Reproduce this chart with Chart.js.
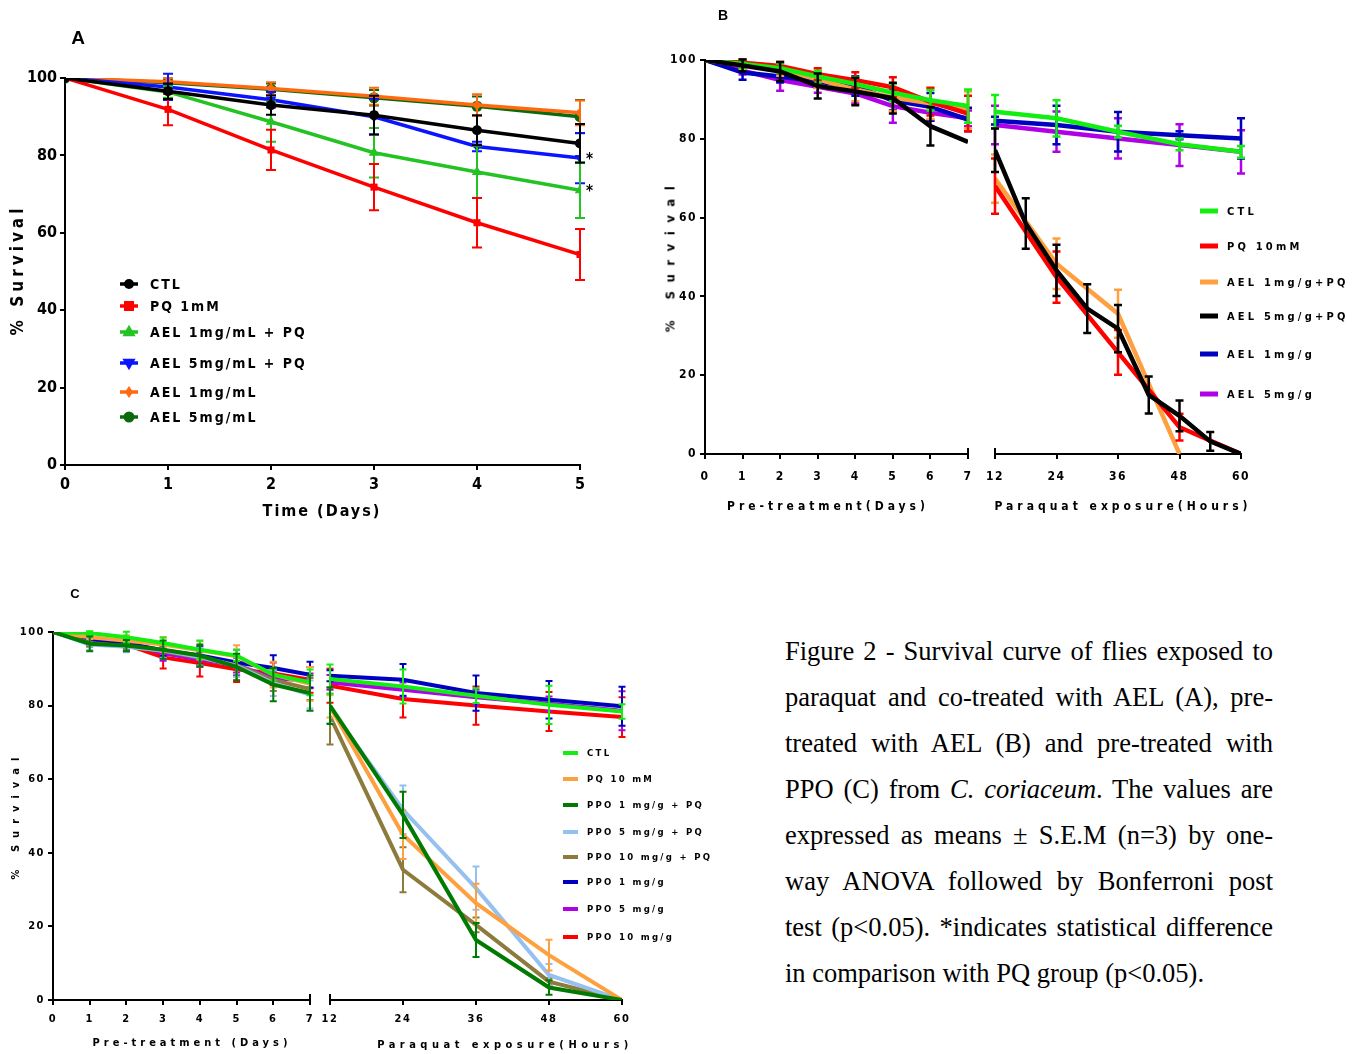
<!DOCTYPE html>
<html>
<head>
<meta charset="utf-8">
<script src="https://cdn.jsdelivr.net/npm/chart.js@4.4.1/dist/chart.umd.min.js"></script>
<style>
  body { margin: 0; background: #fff; width: 1357px; height: 1054px; position: relative; overflow: hidden;
         font-family: 'Liberation Sans', Arial, sans-serif; color: #000; }
  canvas { position: absolute; }
  .lbl { position: absolute; white-space: nowrap; font-weight: bold; transform: translate(-50%, -50%);
         font-family: 'Liberation Sans Narrow', 'DejaVu Sans Condensed', 'Liberation Sans', Arial, sans-serif; }
  .vert { transform: translate(-50%, -50%) rotate(-90deg); }
  .panel { font-family: 'Liberation Sans', Arial, sans-serif; }
  #caption { position: absolute; left: 785px; top: 628px; width: 488px;
             font: 26.5px/46px 'Liberation Serif', 'Times New Roman', serif; }
  #caption div { text-align: justify; text-align-last: justify; white-space: nowrap; }
  #caption div.last { text-align-last: left; }
</style>
</head>
<body>

<canvas id="chartA" width="640" height="540" style="left:0;top:0"></canvas>
<canvas id="chartBdays" width="335" height="530" style="left:640px;top:0"></canvas>
<canvas id="chartBhours" width="382" height="530" style="left:975px;top:0"></canvas>
<canvas id="chartCdays" width="318" height="494" style="left:0;top:560px"></canvas>
<canvas id="chartChours" width="402" height="494" style="left:318px;top:560px"></canvas>

<div class="lbl panel" style="left:78px;top:38px;font-size:19px">A</div>
<div class="lbl vert" style="left:17px;top:270px;font-size:17px;letter-spacing:4px">% Survival</div>
<div class="lbl" style="left:322px;top:510px;font-size:16px;letter-spacing:2px">Time (Days)</div>

<div class="lbl panel" style="left:723px;top:15px;font-size:14px">B</div>
<div class="lbl vert" style="left:670px;top:255px;font-size:13px;letter-spacing:8.5px">% Survival</div>
<div class="lbl" style="left:828px;top:506px;font-size:12px;letter-spacing:4px">Pre-treatment(Days)</div>
<div class="lbl" style="left:1123px;top:506px;font-size:12px;letter-spacing:4px">Paraquat exposure(Hours)</div>

<div class="lbl panel" style="left:75px;top:593px;font-size:13px">C</div>
<div class="lbl vert" style="left:15px;top:815px;font-size:11px;letter-spacing:7px">% Survival</div>
<div class="lbl" style="left:192px;top:1042px;font-size:11px;letter-spacing:4px">Pre-treatment (Days)</div>
<div class="lbl" style="left:505px;top:1044px;font-size:11px;letter-spacing:4.5px">Paraquat exposure(Hours)</div>

<div id="caption">
  <div>Figure 2 - Survival curve of flies exposed to</div>
  <div>paraquat and co-treated with AEL (A), pre-</div>
  <div>treated with AEL (B) and pre-treated with</div>
  <div>PPO (C) from <i>C. coriaceum</i>. The values are</div>
  <div>expressed as means ± S.E.M (n=3) by one-</div>
  <div>way ANOVA followed by Bonferroni post</div>
  <div>test (p&lt;0.05). *indicates statistical difference</div>
  <div class="last">in comparison with PQ group (p&lt;0.05).</div>
</div>

<script>
const NARROW = "'Liberation Sans Narrow', 'DejaVu Sans Condensed', 'Liberation Sans', Arial, sans-serif";

// ---- Panel A: co-treatment, survival per day ----
const daysA = [0, 1, 2, 3, 4, 5];
const labelsA = ['CTL', 'PQ 1mM', 'AEL 1mg/mL + PQ', 'AEL 5mg/mL + PQ', 'AEL 1mg/mL', 'AEL 5mg/mL'];
const ctlA       = [100, 96.6, 93.0, 90.4, 86.5, 83.1];
const ctlErrA    = [0, 2.0, 2.5, 5.0, 3.9, 5.0];
const pqA        = [100, 91.9, 81.4, 71.8, 62.6, 54.4];
const pqErrA     = [0, 4.1, 5.2, 6.0, 6.4, 6.6];
const ael1pqA    = [100, 96.4, 88.7, 80.7, 75.7, 71.0];
const ael1pqErrA = [0, 1.5, 5.2, 6.4, 6.7, 7.2];
const ael5pqA    = [100, 97.7, 94.4, 90.0, 82.3, 79.3];
const ael5pqErrA = [0, 3.4, 2.0, 4.6, 1.2, 6.5];
const ael1A      = [100, 99.0, 97.3, 95.3, 93.0, 91.0];
const ael1ErrA   = [0, 1.0, 1.6, 2.2, 2.8, 3.2];
const ael5A      = [100, 98.8, 97.1, 94.9, 92.7, 90.0];
const ael5ErrA   = [0, 1.0, 1.5, 2.0, 2.5, 4.3];
const starsA     = ['', '', '', '', '', '*'];

// ---- Panel B: AEL pre-treatment (days) then paraquat (hours) ----
const daysB = [0, 1, 2, 3, 4, 5, 6, 7];
const hoursB = [12, 24, 36, 48, 60];
const hoursFineB = [12, 18, 24, 30, 36, 42, 48, 54, 60];
const labelsB = ['CTL', 'PQ 10mM', 'AEL 1mg/g+PQ', 'AEL 5mg/g+PQ', 'AEL 1mg/g', 'AEL 5mg/g'];
const ctlDaysB       = [100, 99.0, 97.9, 95.8, 93.9, 91.7, 89.8, 88.3];
const ctlDaysErrB    = [0, 1.0, 1.2, 1.5, 1.8, 2.2, 2.6, 4.2];
const pqDaysB        = [100, 99.3, 98.5, 96.4, 94.9, 93.1, 89.4, 86.4];
const pqDaysErrB     = [0, 0.8, 1.0, 1.5, 2.0, 2.5, 3.5, 4.5];
const ael1pqDaysB    = [100, 98.7, 97.5, 95.1, 92.5, 90.5, 89.0, 87.3];
const ael1pqDaysErrB = [0, 1.0, 1.5, 2.2, 3.0, 3.5, 4.0, 4.7];
const ael5pqDaysB    = [100, 98.6, 97.1, 93.4, 92.0, 90.3, 83.2, 79.2];
const ael5pqDaysErrB = [0, 1.5, 2.4, 3.2, 3.5, 3.9, 4.9, 0];
const ael1DaysB      = [100, 96.8, 95.8, 94.5, 93.4, 89.7, 88.1, 84.9];
const ael1DaysErrB   = [0, 1.8, 1.5, 1.5, 2.5, 2.5, 3.5, 3.0];
const ael5DaysB      = [100, 97.3, 94.9, 93.2, 91.5, 88.3, 86.6, 85.2];
const ael5DaysErrB   = [0, 1.0, 2.7, 1.5, 2.5, 4.2, 2.0, 2.0];

const ctlHoursB       = [86.9, 85.2, 81.8, 78.6, 76.7];
const ctlHoursErrB    = [4.2, 4.6, 1.5, 1.5, 1.5];
const pqHoursB        = [68.0, 44.9, 25.8, 6.8, 0];
const pqHoursErrB     = [7.0, 6.5, 5.7, 3.4, 0];
const ael1pqHoursB    = [69.9, 48.3, 35.6, 0];
const ael1pqHoursErrB = [6.1, 6.4, 6.1, 0];
const ael5pqHoursB    = [77.1, 58.5, 46.6, 36.9, 31.8, 15.0, 9.7, 3.2, 0];
const ael5pqHoursErrB = [5.5, 6.4, 6.5, 6.2, 6.0, 4.7, 3.9, 2.4, 0];
const ael1HoursB      = [84.6, 83.5, 81.8, 80.9, 80.1];
const ael1HoursErrB   = [1.0, 4.9, 5.0, 1.0, 5.1];
const ael5HoursB      = [83.5, 81.8, 80.1, 78.4, 76.7];
const ael5HoursErrB   = [4.9, 5.1, 5.1, 5.3, 5.5];

// ---- Panel C: PPO pre-treatment (days) then paraquat (hours) ----
const daysC = [0, 1, 2, 3, 4, 5, 6, 7];
const hoursC = [12, 24, 36, 48, 60];
const labelsC = ['CTL', 'PQ 10 mM', 'PPO 1 mg/g + PQ', 'PPO 5 mg/g + PQ', 'PPO 10 mg/g + PQ',
                 'PPO 1 mg/g', 'PPO 5 mg/g', 'PPO 10 mg/g'];
const ctlDaysC        = [100, 99.7, 98.6, 97.0, 95.2, 93.6, 88.4, 86.3];
const ctlDaysErrC     = [0, 0.5, 1.5, 1.5, 2.5, 1.5, 1.5, 3.5];
const pqDaysC         = [100, 98.6, 97.6, 96.6, 95.0, 93.4, 88.4, 85.9];
const pqDaysErrC      = [0, 1.5, 1.5, 2.0, 2.5, 3.0, 3.5, 4.6];
const ppo1pqDaysC     = [100, 96.8, 96.3, 95.2, 93.6, 90.5, 85.7, 83.4];
const ppo1pqDaysErrC  = [0, 2.0, 1.5, 2.5, 3.0, 3.6, 4.5, 4.8];
const ppo5pqDaysC     = [100, 96.6, 96.0, 95.0, 93.2, 90.8, 86.1, 83.0];
const ppo5pqDaysErrC  = [0, 1.5, 1.5, 2.0, 2.5, 3.0, 3.5, 3.8];
const ppo10pqDaysC    = [100, 97.0, 96.1, 94.8, 93.0, 91.0, 87.0, 84.5];
const ppo10pqDaysErrC = [0, 1.0, 1.0, 2.0, 2.0, 3.0, 3.0, 3.0];
const ppo1DaysC       = [100, 97.7, 97.0, 95.0, 93.6, 91.7, 90.2, 88.4];
const ppo1DaysErrC    = [0, 1.5, 1.5, 1.5, 2.5, 3.5, 3.5, 3.5];
const ppo5DaysC       = [100, 97.9, 97.0, 94.2, 92.5, 91.0, 87.5, 86.7];
const ppo5DaysErrC    = [0, 1.0, 1.0, 2.0, 2.0, 2.0, 2.0, 2.0];
const ppo10DaysC      = [100, 98.1, 96.6, 93.1, 91.6, 89.9, 88.7, 87.0];
const ppo10DaysErrC   = [0, 1.0, 2.0, 3.0, 3.7, 3.5, 3.0, 3.5];

const ctlHoursC        = [87.2, 85.2, 82.7, 80.2, 78.4];
const ctlHoursErrC     = [4.0, 4.6, 2.0, 5.2, 2.0];
const pqHoursC         = [79.8, 44.9, 26.3, 12.2, 0];
const pqHoursErrC      = [3.0, 6.6, 5.3, 4.2, 0];
const ppo1pqHoursC     = [80.0, 50.3, 16.3, 3.4, 0];
const ppo1pqHoursErrC  = [5.0, 6.3, 4.6, 2.0, 0];
const ppo5pqHoursC     = [79.3, 51.7, 30.4, 6.8, 0];
const ppo5pqHoursErrC  = [4.0, 6.6, 5.9, 3.0, 0];
const ppo10pqHoursC    = [77.1, 35.4, 20.4, 5.0, 0];
const ppo10pqHoursErrC = [7.7, 6.1, 2.0, 1.0, 0];
const ppo1HoursC       = [88.1, 87.0, 83.4, 81.6, 79.8];
const ppo1HoursErrC    = [1.5, 4.3, 4.8, 5.1, 5.3];
const ppo5HoursC       = [86.3, 84.3, 82.3, 80.5, 78.6];
const ppo5HoursErrC    = [2.0, 2.0, 2.0, 2.0, 5.3];
const ppo10HoursC      = [85.4, 81.8, 80.0, 78.4, 76.9];
const ppo10HoursErrC   = [4.6, 5.0, 5.2, 5.3, 5.4];

// pair x values with y values for the linear x scale
function points(xs, ys) {
    return ys.map((y, i) => ({ x: xs[i], y: y }));
}

// letter spacing for tick labels (canvas text state)
const letterSpacing = {
    id: 'letterSpacing',
    beforeLayout(chart, args, opts) { chart.ctx.letterSpacing = opts.value || '0px'; },
    beforeDraw(chart, args, opts) { chart.ctx.letterSpacing = opts.value || '0px'; }
};

// short vertical strokes marking where a broken x axis stops / restarts
const axisBreak = {
    id: 'axisBreak',
    afterDraw(chart, args, opts) {
        if (!opts.at) return;
        const ctx = chart.ctx;
        const x = opts.at === 'end' ? chart.scales.x.right : chart.scales.x.left;
        const y = chart.scales.x.top;
        ctx.save();
        ctx.strokeStyle = '#000';
        ctx.lineWidth = 2;
        ctx.beginPath();
        ctx.moveTo(x, y - 6);
        ctx.lineTo(x, y + 5);
        ctx.stroke();
        ctx.restore();
    }
};

// vertical error bars with caps, plus optional text marks beside points
const errorBars = {
    id: 'errorBars',
    afterDatasetDraw(chart, args) {
        const ds = chart.data.datasets[args.index];
        const ctx = chart.ctx;
        const yScale = chart.scales.y;
        ctx.save();
        if (ds.errors) {
            const cap = ds.capHalf || 4;
            ctx.strokeStyle = ds.borderColor;
            ctx.lineWidth = ds.errorWidth || 2;
            args.meta.data.forEach((pt, i) => {
                const e = ds.errors[i];
                if (!e) return;
                const v = ds.data[i].y;
                const top = yScale.getPixelForValue(v + e);
                const bot = yScale.getPixelForValue(v - e);
                ctx.beginPath();
                ctx.moveTo(pt.x, top); ctx.lineTo(pt.x, bot);
                ctx.moveTo(pt.x - cap, top); ctx.lineTo(pt.x + cap, top);
                ctx.moveTo(pt.x - cap, bot); ctx.lineTo(pt.x + cap, bot);
                ctx.stroke();
            });
        }
        if (ds.marks) {
            ctx.fillStyle = '#000';
            ctx.font = 'bold 15px ' + NARROW;
            ctx.letterSpacing = '0px';
            ctx.textBaseline = 'middle';
            args.meta.data.forEach((pt, i) => {
                if (ds.marks[i]) ctx.fillText(ds.marks[i], pt.x + 6, pt.y + 2);
            });
        }
        ctx.restore();
    }
};

function drawMarker(ctx, style, rotation, x, y, r, color) {
    ctx.save();
    ctx.fillStyle = color;
    ctx.translate(x, y);
    ctx.rotate((rotation || 0) * Math.PI / 180);
    ctx.beginPath();
    if (style === 'rect') {
        ctx.rect(-r, -r, 2 * r, 2 * r);
    } else if (style === 'triangle') {
        ctx.moveTo(0, -r * 1.2); ctx.lineTo(r * 1.1, r * 0.7); ctx.lineTo(-r * 1.1, r * 0.7); ctx.closePath();
    } else if (style === 'rectRot') {
        ctx.moveTo(0, -r * 1.2); ctx.lineTo(r * 0.8, 0); ctx.lineTo(0, r * 1.2); ctx.lineTo(-r * 0.8, 0); ctx.closePath();
    } else {
        ctx.arc(0, 0, r, 0, Math.PI * 2);
    }
    ctx.fill();
    ctx.restore();
}

// legend drawn inside the plot: short line (with marker) and label per dataset
const insideLegend = {
    id: 'insideLegend',
    afterDraw(chart, args, opts) {
        if (!opts.rows) return;
        const ctx = chart.ctx;
        ctx.save();
        ctx.font = opts.font;
        ctx.letterSpacing = opts.spacing;
        ctx.textBaseline = 'middle';
        chart.data.datasets.forEach((ds, i) => {
            const y = opts.rows[i];
            ctx.strokeStyle = ds.borderColor;
            ctx.lineWidth = opts.lineWidth;
            ctx.beginPath();
            ctx.moveTo(opts.x, y);
            ctx.lineTo(opts.x + opts.length, y);
            ctx.stroke();
            if (opts.markers) {
                drawMarker(ctx, ds.pointStyle, ds.pointRotation, opts.x + opts.length / 2, y, ds.pointRadius, ds.borderColor);
            }
            ctx.fillStyle = '#000';
            ctx.fillText(ds.label, opts.textX, y + 1);
        });
        ctx.restore();
    }
};

function makeChart(id, datasets, o) {
    return new Chart(document.getElementById(id), {
        type: 'line',
        data: { datasets: datasets },
        options: {
            animation: false,
            responsive: false,
            devicePixelRatio: 1,
            layout: { padding: o.padding },
            elements: { line: { tension: 0 } },
            scales: {
                x: {
                    type: 'linear', min: o.xMin, max: o.xMax,
                    ticks: { stepSize: o.xStep, color: '#000', padding: o.xTickPad,
                             maxRotation: 0, minRotation: 0,
                             font: { family: NARROW, size: o.tickSize, weight: 'bold' } },
                    grid: { drawOnChartArea: false, tickLength: 5, color: '#000', lineWidth: 2 },
                    border: { color: '#000', width: 2 },
                    // fixed axis band; end labels may hang over the layout padding
                    afterFit: s => { s.height = o.xHeight; s.paddingLeft = 0; s.paddingRight = 0; }
                },
                y: {
                    display: o.showY, min: 0, max: 100,
                    ticks: { stepSize: 20, color: '#000', padding: 3,
                             font: { family: NARROW, size: o.tickSize, weight: 'bold' } },
                    grid: { drawOnChartArea: false, tickLength: 5, color: '#000', lineWidth: 2 },
                    border: { color: '#000', width: 2 },
                    afterFit: s => { s.width = o.yWidth; }
                }
            },
            plugins: {
                legend: { display: false },
                tooltip: { enabled: false },
                letterSpacing: { value: o.tickSpacing },
                axisBreak: { at: o.breakAt },
                insideLegend: o.legend || {}
            }
        },
        plugins: [letterSpacing, axisBreak, errorBars, insideLegend]
    });
}

function series(label, color, xs, ys, errs, extra) {
    return Object.assign({
        label: label, data: points(xs, ys), errors: errs,
        borderColor: color, backgroundColor: color,
        borderWidth: 4, pointRadius: 0, fill: false
    }, extra || {});
}

// ---- Panel A ----
const styleA = { borderWidth: 3.5, pointBorderWidth: 0, errorWidth: 2, capHalf: 5 };
makeChart('chartA', [
    series(labelsA[0], '#000000', daysA, ctlA, ctlErrA, Object.assign({ pointStyle: 'circle', pointRadius: 5 }, styleA)),
    series(labelsA[1], '#ff0000', daysA, pqA, pqErrA, Object.assign({ pointStyle: 'rect', pointRadius: 5 }, styleA)),
    series(labelsA[2], '#22c322', daysA, ael1pqA, ael1pqErrA, Object.assign({ pointStyle: 'triangle', pointRadius: 6, marks: starsA }, styleA)),
    series(labelsA[3], '#0a14ff', daysA, ael5pqA, ael5pqErrA, Object.assign({ pointStyle: 'triangle', pointRotation: 180, pointRadius: 6, marks: starsA }, styleA)),
    series(labelsA[4], '#ff6a10', daysA, ael1A, ael1ErrA, Object.assign({ pointStyle: 'rectRot', pointRadius: 5 }, styleA)),
    series(labelsA[5], '#0b6a0b', daysA, ael5A, ael5ErrA, Object.assign({ pointStyle: 'circle', pointRadius: 5.5 }, styleA))
], {
    padding: { top: 78, right: 60, left: 0, bottom: 0 },
    xMin: 0, xMax: 5, xStep: 1, showY: true, yWidth: 65, xHeight: 75, xTickPad: 5,
    tickSize: 16, tickSpacing: '0px',
    legend: { x: 120, length: 18, textX: 150, rows: [284, 306, 332, 363, 392, 417],
              font: 'bold 14px ' + NARROW, spacing: '2px', lineWidth: 3.5, markers: true }
});

// ---- Panel B ----
const colorsB = ['#12ee12', '#ff0000', '#ffa040', '#000000', '#0000c0', '#b000e6'];
const errB = { errorWidth: 2.5, capHalf: 4, borderWidth: 4.5 };
makeChart('chartBdays', [
    series(labelsB[0], colorsB[0], daysB, ctlDaysB, ctlDaysErrB, errB),
    series(labelsB[1], colorsB[1], daysB, pqDaysB, pqDaysErrB, errB),
    series(labelsB[2], colorsB[2], daysB, ael1pqDaysB, ael1pqDaysErrB, errB),
    series(labelsB[3], colorsB[3], daysB, ael5pqDaysB, ael5pqDaysErrB, Object.assign({ order: -1 }, errB)),
    series(labelsB[4], colorsB[4], daysB, ael1DaysB, ael1DaysErrB, errB),
    series(labelsB[5], colorsB[5], daysB, ael5DaysB, ael5DaysErrB, errB)
], {
    padding: { top: 60, right: 7, left: 0, bottom: 0 },
    xMin: 0, xMax: 7, xStep: 1, showY: true, yWidth: 65, xHeight: 76, xTickPad: 11,
    tickSize: 12, tickSpacing: '1.5px', breakAt: 'end'
});
makeChart('chartBhours', [
    series(labelsB[0], colorsB[0], hoursB, ctlHoursB, ctlHoursErrB, errB),
    series(labelsB[1], colorsB[1], hoursB, pqHoursB, pqHoursErrB, errB),
    series(labelsB[2], colorsB[2], hoursB, ael1pqHoursB, ael1pqHoursErrB, errB),
    series(labelsB[3], colorsB[3], hoursFineB, ael5pqHoursB, ael5pqHoursErrB, Object.assign({ order: -1 }, errB)),
    series(labelsB[4], colorsB[4], hoursB, ael1HoursB, ael1HoursErrB, errB),
    series(labelsB[5], colorsB[5], hoursB, ael5HoursB, ael5HoursErrB, errB)
], {
    padding: { top: 60, right: 116, left: 20, bottom: 0 },
    xMin: 12, xMax: 60, xStep: 12, showY: false, yWidth: 0, xHeight: 76, xTickPad: 11,
    tickSize: 12, tickSpacing: '1.5px', breakAt: 'start',
    legend: { x: 225, length: 18, textX: 252, rows: [211, 246, 282, 316, 354, 394],
              font: 'bold 11px ' + NARROW, spacing: '3.2px', lineWidth: 5, markers: false }
});

// ---- Panel C ----
const colorsC = ['#12ee12', '#ffa040', '#007a00', '#96c0f0', '#8c7b3c', '#0000c0', '#b000e6', '#ff0000'];
const errC = { errorWidth: 2, capHalf: 3.5, borderWidth: 4 };
makeChart('chartCdays', [
    series(labelsC[0], colorsC[0], daysC, ctlDaysC, ctlDaysErrC, errC),
    series(labelsC[1], colorsC[1], daysC, pqDaysC, pqDaysErrC, errC),
    series(labelsC[2], colorsC[2], daysC, ppo1pqDaysC, ppo1pqDaysErrC, Object.assign({ order: -1 }, errC)),
    series(labelsC[3], colorsC[3], daysC, ppo5pqDaysC, ppo5pqDaysErrC, errC),
    series(labelsC[4], colorsC[4], daysC, ppo10pqDaysC, ppo10pqDaysErrC, errC),
    series(labelsC[5], colorsC[5], daysC, ppo1DaysC, ppo1DaysErrC, errC),
    series(labelsC[6], colorsC[6], daysC, ppo5DaysC, ppo5DaysErrC, errC),
    series(labelsC[7], colorsC[7], daysC, ppo10DaysC, ppo10DaysErrC, errC)
], {
    padding: { top: 72, right: 8, left: 0, bottom: 0 },
    xMin: 0, xMax: 7, xStep: 1, showY: true, yWidth: 53, xHeight: 54, xTickPad: 8,
    tickSize: 11, tickSpacing: '1.5px', breakAt: 'end'
});
makeChart('chartChours', [
    series(labelsC[0], colorsC[0], hoursC, ctlHoursC, ctlHoursErrC, errC),
    series(labelsC[1], colorsC[1], hoursC, pqHoursC, pqHoursErrC, errC),
    series(labelsC[2], colorsC[2], hoursC, ppo1pqHoursC, ppo1pqHoursErrC, Object.assign({ order: -1 }, errC)),
    series(labelsC[3], colorsC[3], hoursC, ppo5pqHoursC, ppo5pqHoursErrC, errC),
    series(labelsC[4], colorsC[4], hoursC, ppo10pqHoursC, ppo10pqHoursErrC, errC),
    series(labelsC[5], colorsC[5], hoursC, ppo1HoursC, ppo1HoursErrC, errC),
    series(labelsC[6], colorsC[6], hoursC, ppo5HoursC, ppo5HoursErrC, errC),
    series(labelsC[7], colorsC[7], hoursC, ppo10HoursC, ppo10HoursErrC, errC)
], {
    padding: { top: 72, right: 98, left: 12, bottom: 0 },
    xMin: 12, xMax: 60, xStep: 12, showY: false, yWidth: 0, xHeight: 54, xTickPad: 8,
    tickSize: 11, tickSpacing: '1.5px', breakAt: 'start',
    legend: { x: 245, length: 15, textX: 269, rows: [193, 219, 245, 272, 297, 322, 349, 377],
              font: 'bold 9.5px ' + NARROW, spacing: '2.3px', lineWidth: 4, markers: false }
});
</script>
</body>
</html>
